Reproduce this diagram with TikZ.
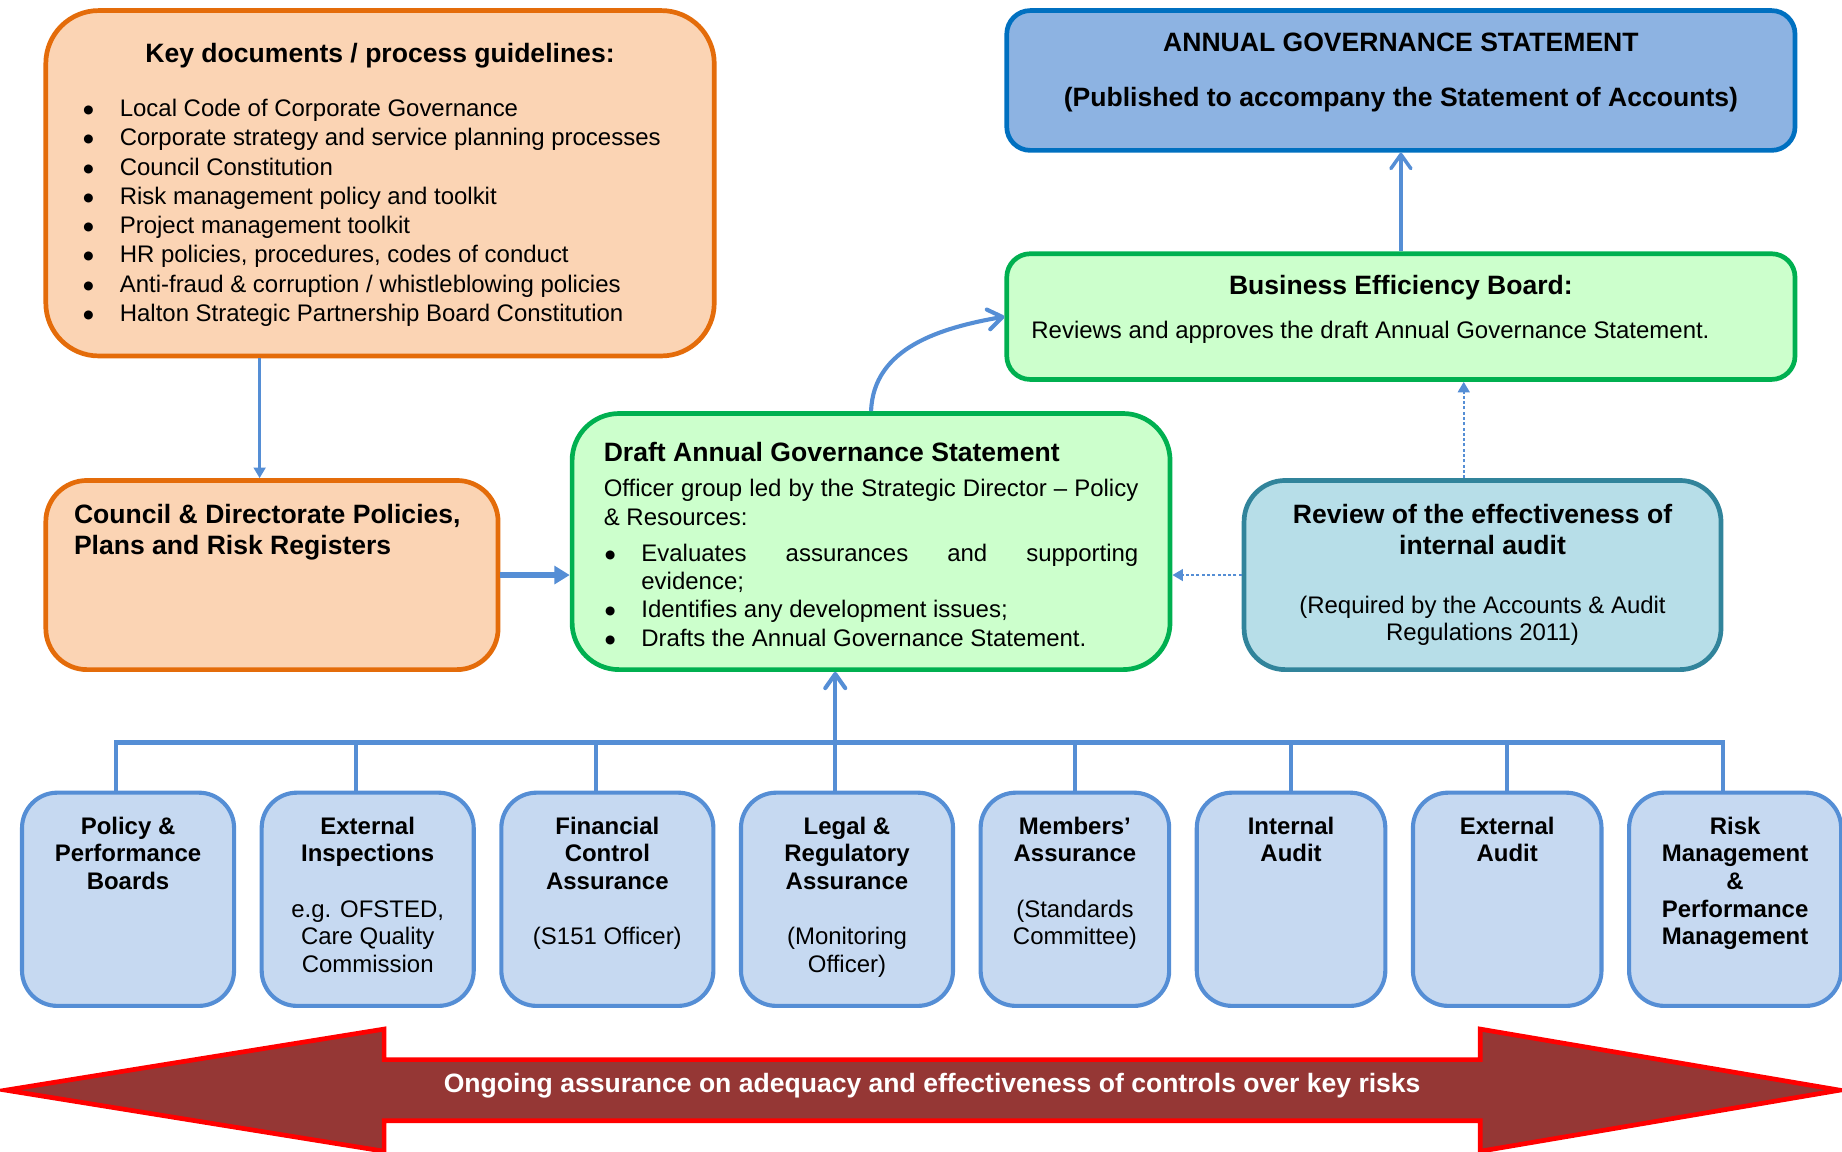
\documentclass[tikz,border=0pt]{standalone}
\usepackage{fontspec}
\setmainfont{Liberation Sans}
\newfontfamily\symfont{DejaVu Sans}
\usetikzlibrary{positioning,arrows.meta}

\definecolor{orangeline}{HTML}{E46C0A}
\definecolor{orangefill}{HTML}{FBD4B4}
\definecolor{agsline}{HTML}{0070C0}
\definecolor{agsfill}{HTML}{8DB3E2}
\definecolor{greenline}{HTML}{00B050}
\definecolor{greenfill}{HTML}{CCFFCC}
\definecolor{reviewline}{HTML}{31849B}
\definecolor{reviewfill}{HTML}{B7DEE8}
\definecolor{srcline}{HTML}{558ED5}
\definecolor{srcfill}{HTML}{C6D9F1}
\definecolor{linkblue}{HTML}{558ED5}
\definecolor{bannerfill}{HTML}{953735}

\newcommand{\hdfont}{\fontsize{22.6}{26}\selectfont\bfseries}
\newcommand{\txtfont}{\fontsize{20.4}{24.9}\selectfont}
\newcommand{\boxtext}[3]{\parbox[c][#2][t]{#1}{#3}}
\newcommand{\srctext}[2]{\boxtext{#1}{181.5pt}{\centering\fontsize{20.4}{23.5}\selectfont\rule{0pt}{35.5pt}#2}}
\newcommand{\itemmark}{\makebox[32pt][l]{\hspace{1pt}\raisebox{2.5pt}{\symfont\fontsize{10}{0}\selectfont ●}}}

\begin{document}
\begin{tikzpicture}[x=1pt,y=-1pt,
                    node distance=20pt,
                    doc node/.style={rectangle,draw=orangeline,fill=orangefill,line width=4pt,rounded corners=35pt,inner ysep=0pt},
                    ags node/.style={rectangle,draw=agsline,fill=agsfill,line width=4pt,rounded corners=20pt,inner xsep=10pt,inner ysep=0pt},
                    green node/.style={rectangle,draw=greenline,fill=greenfill,line width=4pt,rounded corners=20pt,inner ysep=0pt},
                    review node/.style={rectangle,draw=reviewline,fill=reviewfill,line width=4pt,rounded corners=35pt,inner xsep=10pt,inner ysep=0pt},
                    source node/.style={rectangle,draw=srcline,fill=srcfill,line width=3.5pt,rounded corners=30pt,inner xsep=6pt,inner ysep=0pt},
                    link/.style={draw=linkblue,line width=3pt},
                    dot link/.style={draw=linkblue,line width=2pt,dash pattern=on 2.5pt off 2pt,-{Triangle[length=9pt,width=10pt]}},
                    open link/.style={link,-{Straight Barb[length=12pt,width=17pt,round]}}]

  \useasboundingbox (0,0) rectangle (1568,980);

  % upper boxes
  \node[doc node,rounded corners=45pt,inner xsep=31pt] (keydocs) at (323.5,156)
    {\boxtext{507pt}{294pt}{\txtfont
      {\centering\hdfont\rule{0pt}{44pt}Key documents / process guidelines:\par}
      \vspace{21.4pt}
      \itemmark Local Code of Corporate Governance\par
      \itemmark Corporate strategy and service planning processes\par
      \itemmark Council Constitution\par
      \itemmark Risk management policy and toolkit\par
      \itemmark Project management toolkit\par
      \itemmark HR policies, procedures, codes of conduct\par
      \itemmark Anti-fraud \& corruption / whistleblowing policies\par
      \itemmark Halton Strategic Partnership Board Constitution\par}};

  \node[ags node] (ags) at (1192.5,68.5)
    {\boxtext{651pt}{119pt}{\centering\hdfont\rule{0pt}{35pt}ANNUAL GOVERNANCE STATEMENT\\[21pt]
      (Published to accompany the Statement of Accounts)}};

  \node[green node,inner xsep=21pt] (beb) at (1192.5,269.5)
    {\boxtext{629pt}{107pt}{\txtfont
      {\centering\hdfont\rule{0pt}{35pt}Business Efficiency Board:\par}
      \vspace{12.6pt}
      Reviews and approves the draft Annual Governance Statement.}};

  \node[doc node,inner xsep=24pt] (council) at (231.5,489.5)
    {\boxtext{337pt}{161pt}{\raggedright\hdfont\rule{0pt}{37pt}Council \& Directorate Policies,\\
      Plans and Risk Registers}};

  \node[green node,rounded corners=40pt,inner xsep=27pt] (draft) at (741.5,461)
    {\boxtext{455pt}{218pt}{\fontsize{20.4}{24}\selectfont
      {\hdfont\rule{0pt}{41pt}Draft Annual Governance Statement\par}
      \vspace{6pt}
      Officer group led by the Strategic Director – Policy\linebreak \& Resources:\par
      \vspace{7pt}
      \hangindent=32pt\hangafter=1\itemmark Evaluates assurances and supporting\linebreak evidence;\par
      \hangindent=32pt\hangafter=1\itemmark Identifies any development issues;\par
      \hangindent=32pt\hangafter=1\itemmark Drafts the Annual Governance Statement.\par}};

  \node[review node] (review) at (1262,489.5)
    {\boxtext{386pt}{161pt}{\centering
      {\hdfont\rule{0pt}{37pt}Review of the effectiveness of\\internal audit\par}
      \fontsize{20.4}{23}\selectfont
      \vspace{27.5pt}
      (Required by the Accounts \& Audit\\Regulations 2011)}};

  % sources of assurance
  \node[source node] (pol) at (109,765.5) {\srctext{168.5pt}{\textbf{Policy \&\\Performance\\Boards}}};
  \node[source node] (ext) [right=of pol] {\srctext{168.5pt}{\textbf{External\\Inspections}\\[23.5pt]e.g. OFSTED,\\Care Quality\\Commission}};
  \node[source node] (fin) [right=of ext] {\srctext{168.5pt}{\textbf{Financial\\Control\\Assurance}\\[23.5pt](S151 Officer)}};
  \node[source node] (leg) [right=of fin] {\srctext{168.5pt}{\textbf{Legal \&\\Regulatory\\Assurance}\\[23.5pt](Monitoring\\Officer)}};
  \node[source node] (mem) [right=of leg] {\srctext{148.5pt}{\textbf{Members’\\Assurance}\\[23.5pt](Standards\\Committee)}};
  \node[source node] (ia) [right=of mem] {\srctext{148.5pt}{\textbf{Internal\\Audit}}};
  \node[source node] (ea) [right=of ia] {\srctext{148.5pt}{\textbf{External\\Audit}}};
  \node[source node] (risk) [right=of ea] {\srctext{168.5pt}{\textbf{Risk\\Management\\\&\\Performance\\Management}}};

  % links between boxes
  \draw[link,-{Triangle[length=9pt,width=10pt]}]
    ([xshift=-10.5pt]council.north |- keydocs.south) -- ([xshift=-10.5pt]council.north);
  \draw[link,line width=5pt,-{Triangle[length=13pt,width=15pt]}]
    (council.east) -- (council.east -| draft.west);
  \draw[open link,line width=3.5pt] (draft.north) to[out=88,in=190] (beb.west);
  \draw[open link] (beb.north) -- (ags.south);
  \draw[dot link] ([xshift=-16pt]review.north) -- ([xshift=-16pt]review.north |- beb.south);
  \draw[dot link] (review.west) -- (review.west -| draft.east);

  % bus from the sources
  \coordinate (bus) at (0,632);
  \draw[link,line width=3.5pt] ([xshift=82pt]pol.north west) |- ([xshift=82pt]risk.north west |- bus)
    -- ([xshift=82pt]risk.north west);
  \path[link,line width=3.5pt]
    ([xshift=82pt]ext.north west) edge ([xshift=82pt]ext.north west |- bus)
    ([xshift=82pt]fin.north west) edge ([xshift=82pt]fin.north west |- bus)
    ([xshift=82pt]mem.north west) edge ([xshift=82pt]mem.north west |- bus)
    ([xshift=82pt]ia.north west) edge ([xshift=82pt]ia.north west |- bus)
    ([xshift=82pt]ea.north west) edge ([xshift=82pt]ea.north west |- bus);
  \draw[open link,line width=3.5pt] ([xshift=82pt]leg.north west) -- ([xshift=82pt]leg.north west |- draft.south);

  % ongoing assurance banner
  \draw[draw=red,fill=bannerfill,line width=4pt]
    (5,928) -- (327,876) -- (327,902) -- (1260,902) -- (1260,876) -- (1566,928)
    -- (1260,980) -- (1260,954) -- (327,954) -- (327,980) -- cycle;
  \node[text=white,font=\hdfont,anchor=base] (ongoing) at (793.5,930)
    {Ongoing assurance on adequacy and effectiveness of controls over key risks};
\end{tikzpicture}
\end{document}
